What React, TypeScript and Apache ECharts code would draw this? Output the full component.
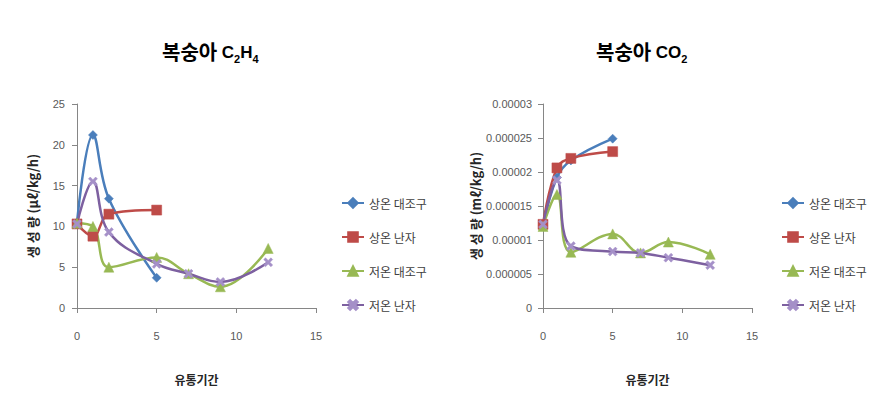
import React, { useEffect, useRef } from "react";
import * as echarts from "echarts";

const seriesNames = ["상온 대조구", "상온 난자", "저온 대조구", "저온 난자"];
const colors = ["#4a7ebb", "#be4b48", "#98b954", "#7d60a0"];

// C2H4 (left chart)
const c2h4RoomControl = [[0, 10.5], [1, 21.2], [2, 13.4], [5, 3.7]];
const c2h4RoomTreated = [[0, 10.3], [1, 8.8], [2, 11.5], [5, 12.0]];
const c2h4ColdControl = [[0, 10.4], [1, 10.0], [2, 5.0], [5, 6.2], [7, 4.2], [9, 2.6], [12, 7.3]];
const c2h4ColdTreated = [[0, 10.3], [1, 15.5], [2, 9.3], [5, 5.4], [7, 4.2], [9, 3.2], [12, 5.6]];

// CO2 (right chart)
const co2RoomControl = [[0, 0.0000121], [1, 0.0000192], [2, 0.0000217], [5, 0.0000249]];
const co2RoomTreated = [[0, 0.0000123], [1, 0.0000206], [2, 0.000022], [5, 0.000023]];
const co2ColdControl = [[0, 0.000012], [1, 0.0000167], [2, 0.0000082], [5, 0.0000109], [7, 0.0000081], [9, 0.0000097], [12, 0.0000079]];
const co2ColdTreated = [[0, 0.0000123], [1, 0.0000188], [2, 0.0000091], [5, 0.0000083], [7, 0.0000081], [9, 0.0000074], [12, 0.0000063]];

const xTicks = { min: 0, max: 15, interval: 5 };

const xSymbol =
  "path://M2,0 L5,3 L8,0 L10,2 L7,5 L10,8 L8,10 L5,7 L2,10 L0,8 L3,5 L0,2 Z";
const symbols = ["diamond", "rect", "triangle", xSymbol];
const symbolSizes = [9, 10, 10, 9];

export default function App() {
  const ref = useRef<HTMLDivElement>(null);
  useEffect(() => {
    if (!ref.current) return;
    const chart = echarts.init(ref.current, undefined, { renderer: "svg" });
    const axisLine = { show: true, lineStyle: { color: "#868686", width: 1 } };
    const axisTick = { show: true, inside: false, length: 5, lineStyle: { color: "#868686" } };
    const labelStyle = { color: "#595959", fontSize: 11, fontFamily: "Liberation Sans Narrow, Arial Narrow, sans-serif" };
    const yNameStyle = { color: "#262626", fontSize: 13, fontWeight: "bold", fontFamily: "Noto Sans CJK KR" };

    const makeXAxis = (gridIndex: number) => ({
      type: "value",
      gridIndex,
      min: xTicks.min,
      max: xTicks.max,
      interval: xTicks.interval,
      splitLine: { show: false },
      axisLine,
      axisTick,
      axisLabel: { ...labelStyle, margin: 22 },
      name: "유통기간",
      nameLocation: "middle",
      nameGap: 65,
      nameTextStyle: { color: "#262626", fontSize: 12, fontWeight: "bold", fontFamily: "Noto Sans CJK KR" },
    });

    const sets = [
      [c2h4RoomControl, c2h4RoomTreated, c2h4ColdControl, c2h4ColdTreated],
      [co2RoomControl, co2RoomTreated, co2ColdControl, co2ColdTreated],
    ];
    const series: any[] = [];
    sets.forEach((group, gi) => {
      group.forEach((data, si) => {
        series.push({
          type: "line",
          name: seriesNames[si],
          xAxisIndex: gi,
          yAxisIndex: gi,
          data,
          smooth: 0.4,
          symbol: symbols[si],
          symbolSize: symbolSizes[si],
          showAllSymbol: true,
          lineStyle: { color: colors[si], width: 2.5 },
          itemStyle: {
            color: si === 3 ? "#a590c8" : colors[si],
            borderColor: si === 3 ? "#a590c8" : colors[si],
            borderWidth: 0.5,
          },
        });
      });
    });

    const legendBase = {
      orient: "vertical",
      top: 192,
      itemGap: 22,
      itemWidth: 22,
      itemHeight: 12,
      data: seriesNames,
      textStyle: { color: "#404040", fontSize: 12, fontFamily: "Noto Sans CJK KR" },
    };

    const titleRich = {
      a: { fontSize: 20, fontWeight: "bold", color: "#000", fontFamily: "Noto Sans CJK KR", verticalAlign: "bottom" },
      b: { fontSize: 17, color: "#000", fontFamily: "Liberation Sans Narrow, sans-serif", verticalAlign: "bottom" },
      s: { fontSize: 11, color: "#000", fontFamily: "Liberation Sans Narrow, sans-serif", verticalAlign: "bottom", padding: [0, 0, -4, 0] },
    };

    chart.setOption({
      animation: false,
      backgroundColor: "#ffffff",
      title: [
        { text: "{a|복숭아 }{b|C}{s|2}{b|H}{s|4}", left: 157, top: 36, textStyle: { rich: titleRich } },
        { text: "{a|복숭아 }{b|CO}{s|2}", left: 591, top: 36, textStyle: { rich: titleRich } },
      ],
      legend: [
        { ...legendBase, left: 336 },
        { ...legendBase, left: 776 },
      ],
      grid: [
        { left: 77, top: 104, width: 239, height: 204 },
        { left: 543, top: 104, width: 209, height: 204 },
      ],
      xAxis: [makeXAxis(0), makeXAxis(1)],
      yAxis: [
        {
          type: "value",
          gridIndex: 0,
          min: 0,
          max: 25,
          interval: 5,
          splitLine: { show: false },
          axisLine,
          axisTick,
          axisLabel: { ...labelStyle, margin: 12 },
          name: "생 성 량 (μℓ/kg/h)",
          nameLocation: "middle",
          nameRotate: 90,
          nameGap: 38,
          nameTextStyle: yNameStyle,
        },
        {
          type: "value",
          gridIndex: 1,
          min: 0,
          max: 0.00003,
          interval: 0.000005,
          splitLine: { show: false },
          axisLine,
          axisTick,
          axisLabel: {
            ...labelStyle,
            margin: 11,
            formatter: (v: number) => (v === 0 ? "0" : String(parseFloat(v.toFixed(7)))),
          },
          name: "생 성 량 (mℓ/kg/h)",
          nameLocation: "middle",
          nameRotate: 90,
          nameGap: 60,
          nameTextStyle: yNameStyle,
        },
      ],
      series,
    });
    return () => chart.dispose();
  }, []);
  return (
    <div
      ref={ref}
      style={{ position: "fixed", left: 0, top: 0, width: 882, height: 418 }}
    />
  );
}
